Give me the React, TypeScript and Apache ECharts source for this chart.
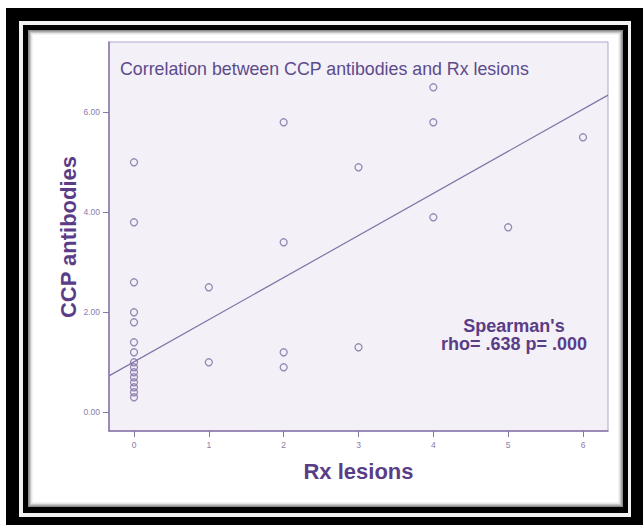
import React, { useEffect, useRef } from "react";
import * as echarts from "echarts";

const chartTitle = "Correlation between CCP antibodies and Rx lesions";
const xAxisTitle = "Rx lesions";
const yAxisTitle = "CCP antibodies";
const statLines = ["Spearman's", "rho= .638 p= .000"];

const rxLesions = [
  0, 0, 0, 0, 0, 0, 0, 0, 0, 0, 0, 0, 0, 0, 0,
  1, 1,
  2, 2, 2, 2,
  3, 3,
  4, 4, 4,
  5,
  6,
];
const ccpAntibodies = [
  5.0, 3.8, 2.6, 2.0, 1.8, 1.4, 1.2, 1.0, 0.9, 0.8, 0.7, 0.6, 0.5, 0.4, 0.3,
  2.5, 1.0,
  5.8, 3.4, 1.2, 0.9,
  4.9, 1.3,
  6.5, 5.8, 3.9,
  3.7,
  5.5,
];

const xTicks = [0, 1, 2, 3, 4, 5, 6];
const yTicks = [0, 2, 4, 6];
const xRange = [-0.334, 6.334];
const yRange = [-0.374, 7.406];

// fit line shown on the chart
const fitIntercept = 1.01;
const fitSlope = 0.842;

const FONT = '"Liberation Sans", Arial, sans-serif';
const AXIS_COLOR = "#8676a8";
const LABEL_COLOR = "#8a7cab";
const TITLE_COLOR = "#5c4b8b";
const BOLD_COLOR = "#5a3d87";

export default function App() {
  const ref = useRef<HTMLDivElement>(null);

  useEffect(() => {
    if (!ref.current) return;
    const chart = echarts.init(ref.current, null, { renderer: "svg" });

    const points = rxLesions.map((x, i) => [x, ccpAntibodies[i]]);
    const fit = (x: number) => fitIntercept + fitSlope * x;

    chart.setOption({
      animation: false,
      backgroundColor: "#ffffff",
      grid: {
        left: 109,
        top: 42,
        width: 499,
        height: 389,
        show: true,
        backgroundColor: "#f3f0f7",
        borderColor: "#b2a5cb",
        borderWidth: 1,
        containLabel: false,
      },
      xAxis: {
        type: "value",
        min: xRange[0],
        max: xRange[1],
        splitLine: { show: false },
        axisLine: { show: true, onZero: false, lineStyle: { color: AXIS_COLOR, width: 1.5 } },
        axisTick: { show: true, customValues: xTicks, length: 6, lineStyle: { color: AXIS_COLOR } },
        axisLabel: {
          customValues: xTicks,
          fontSize: 8.5,
          color: LABEL_COLOR,
          margin: 9,
          fontFamily: FONT,
        },
      },
      yAxis: {
        type: "value",
        min: yRange[0],
        max: yRange[1],
        splitLine: { show: false },
        axisLine: { show: true, onZero: false, lineStyle: { color: AXIS_COLOR, width: 1.5 } },
        axisTick: { show: true, customValues: yTicks, length: 6, lineStyle: { color: AXIS_COLOR } },
        axisLabel: {
          customValues: yTicks,
          fontSize: 8.5,
          color: LABEL_COLOR,
          margin: 9,
          fontFamily: FONT,
          formatter: (v: number) => v.toFixed(2),
        },
      },
      series: [
        {
          type: "line",
          data: [
            [xRange[0], fit(xRange[0])],
            [xRange[1], fit(xRange[1])],
          ],
          symbol: "none",
          silent: true,
          clip: true,
          lineStyle: { color: "#8373a8", width: 1.2 },
          z: 2,
        },
        {
          type: "scatter",
          data: points,
          symbol: "circle",
          symbolSize: 7,
          itemStyle: { color: "rgba(0,0,0,0)", borderColor: "#7d6ca4", borderWidth: 1.3 },
          z: 3,
        },
      ],
      graphic: [
        { type: "rect", z: -10, shape: { x: 6, y: 8, width: 637, height: 517 }, style: { fill: "#000" } },
        { type: "rect", z: -9, shape: { x: 19, y: 21, width: 612, height: 496 }, style: { fill: "#f2f2f2" } },
        { type: "rect", z: -8, shape: { x: 23, y: 25, width: 605, height: 488 }, style: { fill: "#000" } },
        { type: "rect", z: -7, shape: { x: 28, y: 30, width: 595, height: 477 }, style: { fill: "#8c8c8c" } },
        { type: "rect", z: -6, shape: { x: 29.5, y: 31.5, width: 592, height: 474 }, style: { fill: "#c4c4c4" } },
        { type: "rect", z: -5, shape: { x: 31, y: 33, width: 589, height: 471 }, style: { fill: "#e6e6e6" } },
        { type: "rect", z: -4, shape: { x: 32.5, y: 34.5, width: 586, height: 468 }, style: { fill: "#ffffff" } },
        {
          type: "text",
          z: 100,
          x: 120,
          y: 69,
          style: {
            text: chartTitle,
            fill: TITLE_COLOR,
            font: `17.8px ${FONT}`,
            textAlign: "left",
            textVerticalAlign: "middle",
          },
        },
        {
          type: "text",
          z: 100,
          x: 68,
          y: 237,
          rotation: Math.PI / 2,
          style: {
            text: yAxisTitle,
            fill: BOLD_COLOR,
            font: `bold 22px ${FONT}`,
            textAlign: "center",
            textVerticalAlign: "middle",
          },
        },
        {
          type: "text",
          z: 100,
          x: 358.5,
          y: 471,
          style: {
            text: xAxisTitle,
            fill: BOLD_COLOR,
            font: `bold 22px ${FONT}`,
            textAlign: "center",
            textVerticalAlign: "middle",
          },
        },
        {
          type: "text",
          z: 100,
          x: 514,
          y: 325.5,
          style: {
            text: statLines[0],
            fill: BOLD_COLOR,
            font: `bold 18px ${FONT}`,
            textAlign: "center",
            textVerticalAlign: "middle",
          },
        },
        {
          type: "text",
          z: 100,
          x: 514,
          y: 343.7,
          style: {
            text: statLines[1],
            fill: BOLD_COLOR,
            font: `bold 18px ${FONT}`,
            textAlign: "center",
            textVerticalAlign: "middle",
          },
        },
      ],
    });

    return () => chart.dispose();
  }, []);

  return (
    <div
      ref={ref}
      style={{ position: "absolute", left: 0, top: 0, width: 643, height: 525 }}
    />
  );
}
